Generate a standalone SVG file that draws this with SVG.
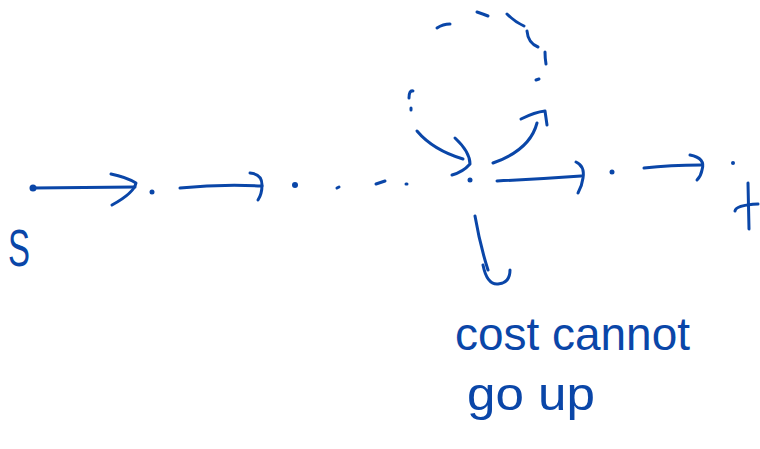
<svg xmlns="http://www.w3.org/2000/svg" width="760" height="449" viewBox="0 0 760 449">
<style>
.ink{fill:none;stroke:#0a46a8;stroke-width:3;stroke-linecap:round;stroke-linejoin:round}
.dot{fill:#0a46a8}
.txt{fill:#0a46a8;font-family:"Liberation Sans","DejaVu Sans",sans-serif;font-weight:normal}
</style>
<rect width="760" height="449" fill="#ffffff"/>
<g id="node-s">
<circle class="dot" cx="33" cy="188" r="3.5"/>
<text class="txt" x="8" y="266" font-size="52" textLength="22" lengthAdjust="spacingAndGlyphs">S</text>
</g>
<g id="node-1"><circle class="dot" cx="152" cy="192" r="2.5"/></g>
<g id="node-2"><circle class="dot" cx="295" cy="185" r="3"/></g>
<g id="gap">
<path class="ink" d="M337 188 L339 187"/>
<path class="ink" d="M376 184 L385 181"/>
<path class="ink" d="M406 184 L407 184"/>
</g>
<g id="node-v"><circle class="dot" cx="470" cy="180" r="2.5"/></g>
<g id="node-3"><circle class="dot" cx="612" cy="172" r="2.5"/></g>
<g id="node-4"><circle class="dot" cx="733" cy="163" r="2"/></g>
<g id="node-t">
<path class="ink" d="M748 183 L749 229"/>
<path class="ink" d="M735 211 Q736 205 758 204"/>
</g>
<g id="label">
<text class="txt" x="455" y="350" font-size="46" textLength="235" lengthAdjust="spacingAndGlyphs">cost cannot</text>
<text class="txt" x="467" y="410" font-size="46" textLength="128" lengthAdjust="spacingAndGlyphs">go up</text>
</g>
<g id="connectors">
<path class="ink" d="M33 188 L135 187"/>
<path class="ink" d="M111 174 Q126 177 136 183 Q134 193 112 205"/>
<path class="ink" d="M180 188 Q220 184 262 186"/>
<path class="ink" d="M250 173 Q262 174 262 185 Q262 194 258 200"/>
<path class="ink" d="M417 131 Q433 150 463 159"/>
<path class="ink" d="M455 138 Q470 152 470 164 Q463 172 452 175"/>
<path class="ink" d="M493 163 Q530 150 537 123"/>
<path class="ink" d="M521 119 Q535 112 545 111 Q546 118 547 125"/>
<path class="ink" d="M497 181 Q540 179 581 176"/>
<path class="ink" d="M576 162 Q585 166 583 178 Q582 186 578 193"/>
<path class="ink" d="M644 168 Q670 165 701 165"/>
<path class="ink" d="M690 155 Q706 158 702 170 Q701 176 697 180"/>
<path class="ink" d="M475 216 Q480 245 488 270"/>
<path class="ink" d="M483 265 Q487 285 498 284 Q510 283 510 270"/>
<g id="loop" class="ink">
<path d="M411 108 L411 110"/>
<path d="M413 91 Q409 90 409 98"/>
<path d="M437 28 Q443 24 450 24"/>
<path d="M477 12 Q483 14 488 16"/>
<path d="M507 14 Q515 22 524 26"/>
<path d="M527 31 Q528 43 538 47"/>
<path d="M545 52 Q545 58 546 64"/>
<path d="M536 80 L539 79"/>
</g>
</g>
</svg>
